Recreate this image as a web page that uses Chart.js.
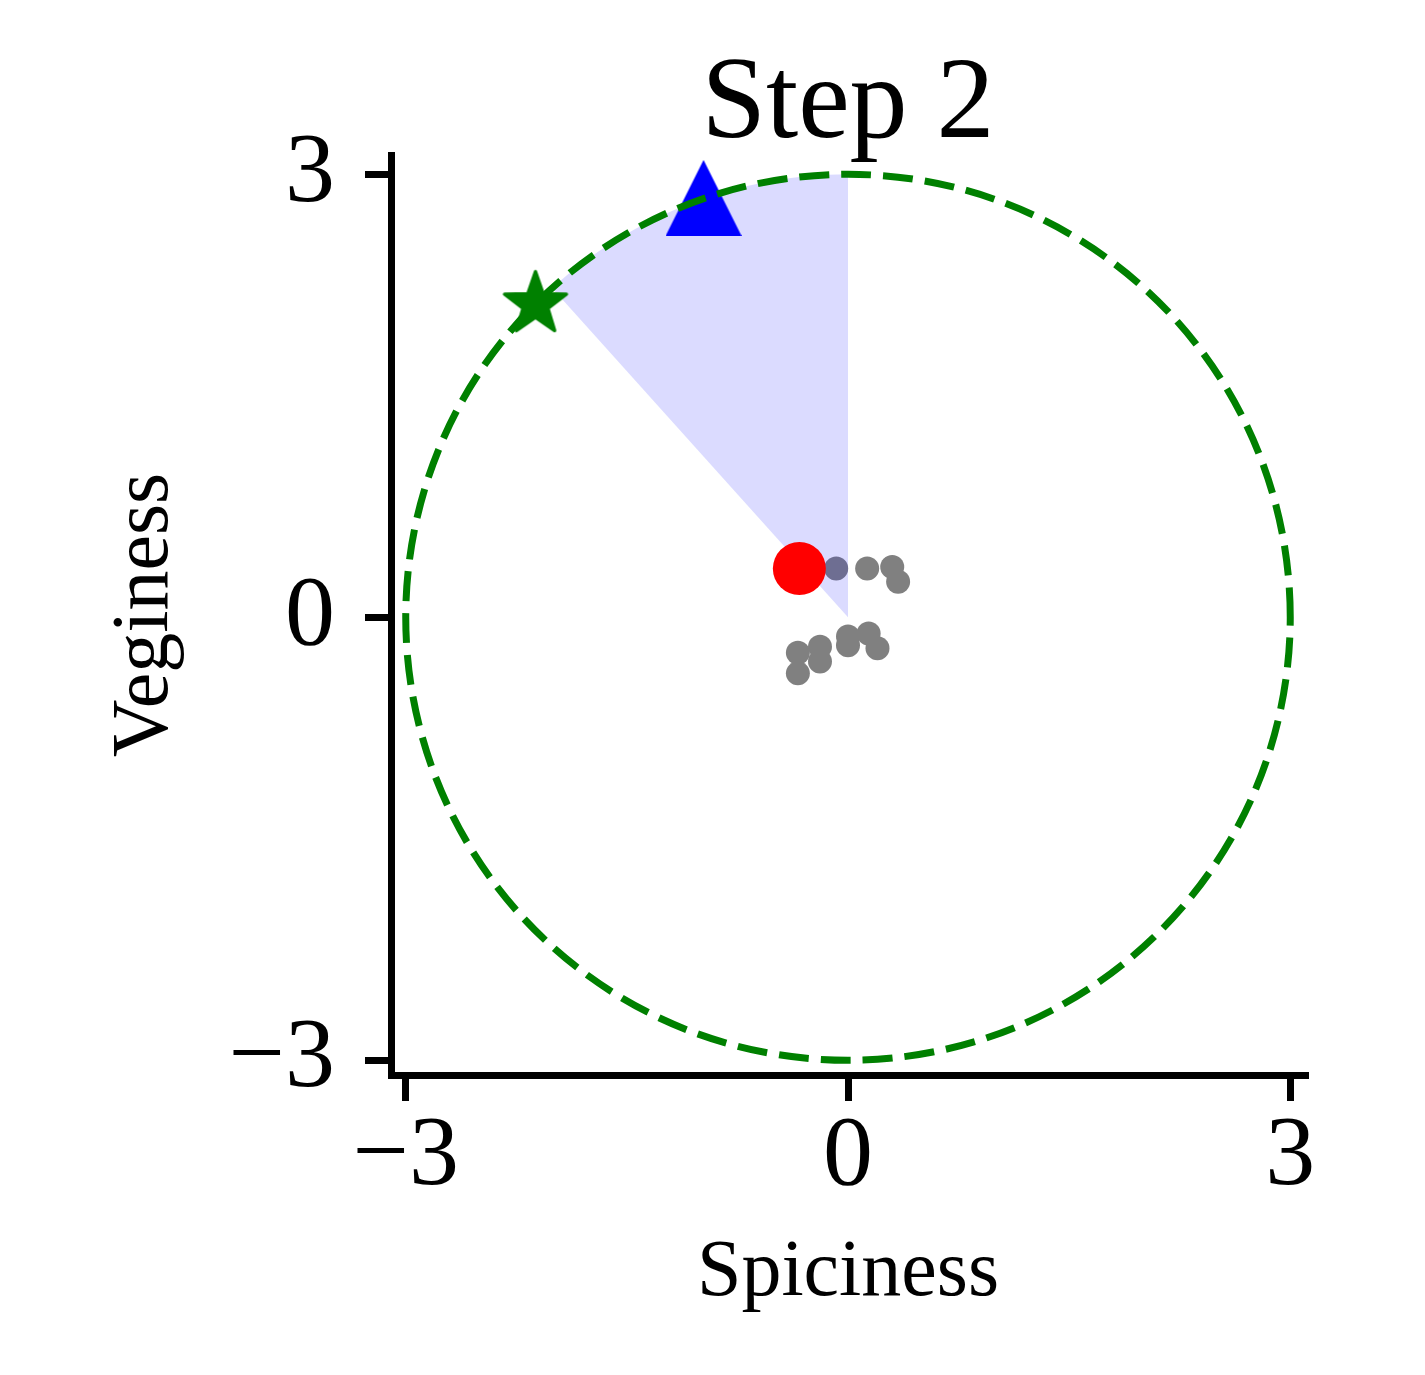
<!DOCTYPE html>
<html><head><meta charset="utf-8">
<script src="https://cdn.jsdelivr.net/npm/chart.js@4.4.1/dist/chart.umd.min.js"></script>
<style>html,body{margin:0;padding:0;background:#fff;} canvas{display:block;}</style>
</head><body>
<canvas id="c" width="1425" height="1375"></canvas>
<script>
// ---- data ----
const titleText = 'Step 2';
const xLabel = 'Spiciness';
const yLabel = 'Veginess';
const tickValues = [-3, 0, 3];
const tickLabels = ['\u22123', '0', '3'];
const xLimits = [-3.1, 3.1];
const yLimits = [-3.1, 3.13];
const neighborX = [-0.08, 0.13, 0.30, 0.34, -0.34, -0.34, -0.19, -0.19, 0.00, 0.00, 0.14, 0.20];
const neighborY = [0.33, 0.33, 0.34, 0.24, -0.24, -0.38, -0.20, -0.30, -0.13, -0.19, -0.11, -0.21];
const currentPoint = [-0.33, 0.33];
const trianglePoint = [-0.98, 2.84];
const starPoint = [-2.12, 2.12];
const circleCenter = [0, 0];
const circleRadius = 3;
const wedgeAngles = [90, 132];

const FAMILY = '"Liberation Serif", "DejaVu Serif", serif';

function makeTriangle(w, h, color) {
  const c = document.createElement('canvas');
  c.width = w; c.height = h;
  const g = c.getContext('2d');
  g.fillStyle = color;
  g.beginPath();
  g.moveTo(w / 2, 0); g.lineTo(w, h); g.lineTo(0, h); g.closePath();
  g.fill();
  return c;
}
function makeStar(size, R, r, color, edge) {
  const c = document.createElement('canvas');
  c.width = size; c.height = size;
  const g = c.getContext('2d');
  const cx = size / 2, cy = size / 2;
  g.fillStyle = color;
  g.strokeStyle = color;
  g.lineWidth = edge;
  g.lineJoin = 'round';
  g.beginPath();
  for (let i = 0; i < 10; i++) {
    const a = -Math.PI / 2 + i * Math.PI / 5;
    const rr = i % 2 === 0 ? R : r;
    const px = cx + rr * Math.cos(a), py = cy + rr * Math.sin(a);
    if (i === 0) g.moveTo(px, py); else g.lineTo(px, py);
  }
  g.closePath();
  g.fill();
  g.stroke();
  return c;
}

const overlay = {
  id: 'overlay',
  afterDatasetDraw(chart, args) {
    const xs = chart.scales.x, ys = chart.scales.y, ctx = chart.ctx;
    const cx = xs.getPixelForValue(circleCenter[0]);
    const cy = ys.getPixelForValue(circleCenter[1]);
    const rx = xs.getPixelForValue(circleCenter[0] + circleRadius) - cx;
    const ry = cy - ys.getPixelForValue(circleCenter[1] + circleRadius);
    const ds = chart.data.datasets[args.index];
    if (ds.label === 'neighbors') {
      ctx.save();
      ctx.fillStyle = 'rgba(0,0,255,0.14)';
      ctx.beginPath();
      ctx.moveTo(cx, cy);
      ctx.ellipse(cx, cy, rx, ry, 0, -wedgeAngles[1] * Math.PI / 180, -wedgeAngles[0] * Math.PI / 180, false);
      ctx.closePath();
      ctx.fill();
      ctx.restore();
    } else if (ds.label === 'triangle') {
      ctx.save();
      ctx.strokeStyle = '#008000';
      ctx.lineWidth = 7;
      ctx.setLineDash([30, 12]);
      ctx.beginPath();
      ctx.ellipse(cx, cy, rx, ry, 0, 0, -2 * Math.PI, true);
      ctx.stroke();
      ctx.restore();
    }
  }
};

const axisCommon = {
  type: 'linear',
  afterBuildTicks: s => { s.ticks = tickValues.map(v => ({ value: v })); },
  grid: { drawOnChartArea: false, drawTicks: true, tickLength: 26, lineWidth: 7, color: '#000', tickColor: '#000' },
  border: { display: true, color: '#000', width: 7 }
};

new Chart(document.getElementById('c'), {
  type: 'scatter',
  data: {
    datasets: [
      { label: 'neighbors', order: 6,
        data: neighborX.map((x, i) => ({ x, y: neighborY[i] })),
        pointRadius: 12, backgroundColor: '#808080', borderWidth: 0 },
      { label: 'current', order: 4,
        data: [{ x: currentPoint[0], y: currentPoint[1] }],
        pointRadius: 26.5, backgroundColor: '#ff0000', borderWidth: 0 },
      { label: 'triangle', order: 3,
        data: [{ x: trianglePoint[0], y: trianglePoint[1] }],
        pointStyle: makeTriangle(76, 76, '#0000ff'), pointRadius: 38, borderWidth: 0 },
      { label: 'star', order: 1,
        data: [{ x: starPoint[0], y: starPoint[1] }],
        pointStyle: makeStar(74, 32.5, 13, '#008000', 3.5), pointRadius: 34, borderWidth: 0 }
    ]
  },
  options: {
    responsive: false,
    animation: false,
    devicePixelRatio: 1,
    layout: { padding: { top: 0, left: 0, right: 120, bottom: 0 } },
    plugins: {
      legend: { display: false },
      tooltip: { enabled: false },
      title: {
        display: true, text: titleText, fullSize: false, color: '#000',
        font: { family: FAMILY, size: 116, weight: 'normal', lineHeight: 0.88 },
        padding: { top: 55, bottom: -2 }
      }
    },
    scales: {
      x: Object.assign({}, axisCommon, {
        min: xLimits[0], max: xLimits[1],
        afterFit: s => { s.height = 300; },
        ticks: { autoSkip: false, maxRotation: 0, padding: -3, color: '#000',
          font: { family: FAMILY, size: 100 },
          callback: (v, i) => tickLabels[i] },
        title: { display: true, text: xLabel, color: '#000',
          font: { family: FAMILY, size: 80, lineHeight: 1 },
          padding: { top: 0, bottom: 61 } }
      }),
      y: Object.assign({}, axisCommon, {
        min: yLimits[0], max: yLimits[1],
        afterFit: s => { s.width = 391; },
        ticks: { autoSkip: false, padding: 30, color: '#000',
          font: { family: FAMILY, size: 100 },
          callback: (v, i) => tickLabels[i] },
        title: { display: true, text: yLabel, color: '#000',
          font: { family: FAMILY, size: 80, lineHeight: 1 },
          padding: { top: 106, bottom: 0 } }
      })
    }
  },
  plugins: [overlay]
});
</script>
</body></html>
